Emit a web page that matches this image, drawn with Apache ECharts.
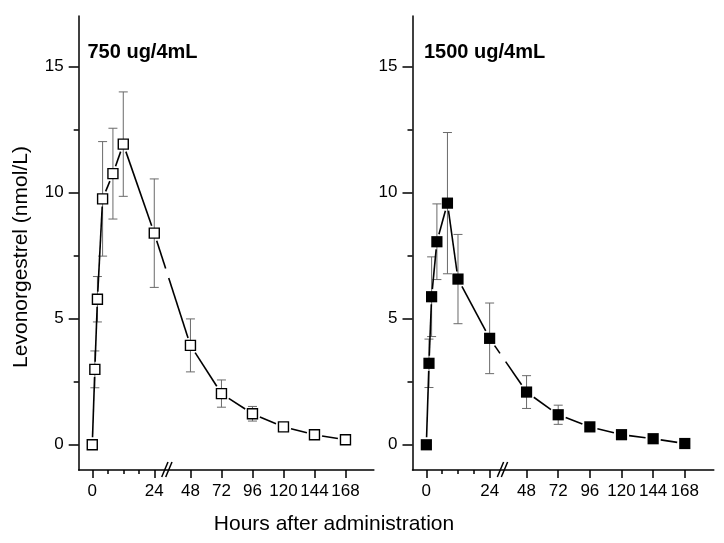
<!DOCTYPE html>
<html><head><meta charset="utf-8">
<script src="https://cdn.jsdelivr.net/npm/echarts@6/dist/echarts.min.js"></script>
<style>html,body{margin:0;padding:0;background:#fff}#c{width:724px;height:543px}</style>
</head><body><div id="c"></div>
<script>
// ---- data ----
const hours      = [0, 1, 2, 4, 8, 12, 24, 48, 72, 96, 120, 144, 168];
const mean750    = [0, 2.99, 5.77, 9.75, 10.75, 11.92, 8.39, 3.94, 2.03, 1.23, 0.71, 0.40, 0.20];
const sd750      = [0, 0.73, 0.90, 2.27, 1.80, 2.07, 2.15, 1.05, 0.54, 0.29, 0.10, 0.12, 0.12];
const mean1500   = [0, 3.23, 5.87, 8.05, 9.58, 6.57, 4.22, 2.09, 1.19, 0.71, 0.40, 0.24, 0.05];
const sd1500     = [0, 0.96, 1.58, 1.50, 2.80, 1.77, 1.40, 0.65, 0.38, 0.10, 0.08, 0.05, 0.05];
const panelTitles = ['750 ug/4mL', '1500 ug/4mL'];
const tickHours      = [0, 24, 48, 72, 96, 120, 144, 168];
const minorTickHours = [6, 12, 18];
const yTicks      = [0, 5, 10, 15];
const yMinorTicks = [2.5, 7.5, 12.5];
const yTitle = 'Levonorgestrel (nmol/L)';
const xTitle = 'Hours after administration';

// broken time axis: 0–24 h at full scale, 48–168 h at half scale
const BREAK_AT = 29;
function pos(h) { return h <= 24 ? h : 38 + (h - 48) / 2; }

const FONT = '"Liberation Sans", Arial, sans-serif';
const panels = [
  { mean: mean750,  sd: sd750,  open: true,  left: 78.7,  width: 295.2 },
  { mean: mean1500, sd: sd1500, open: false, left: 412.5, width: 301.3 }
];
const X_MIN = -5.25, X_MAX = 109, Y_MIN = -1, Y_MAX = 17;
const HALF = 5.6;   // half marker size in px (for line gaps)

const grid = [], xAxis = [], yAxis = [], series = [];
const tickPos = tickHours.map(pos);

panels.forEach((p, g) => {
  grid.push({ left: p.left, top: 16, width: p.width, height: 454 });
  const axLine = { show: true, onZero: false, lineStyle: { color: '#000', width: 1.5 } };
  xAxis.push({
    gridIndex: g, type: 'value', min: X_MIN, max: X_MAX, position: 'bottom',
    axisLine: axLine,
    axisTick: { show: true, customValues: tickPos, length: 8, lineStyle: { color: '#000', width: 1.5 } },
    axisLabel: { customValues: tickPos, fontSize: 17, color: '#000', fontFamily: FONT, margin: 13,
      formatter: v => { const i = tickPos.findIndex(t => Math.abs(t - v) < 1e-6); return i >= 0 ? String(tickHours[i]) : ''; } },
    splitLine: { show: false }
  });
  xAxis.push({
    gridIndex: g, type: 'value', min: X_MIN, max: X_MAX, position: 'bottom',
    axisLine: { show: false, onZero: false },
    axisTick: { show: true, customValues: minorTickHours.map(pos), length: 4, lineStyle: { color: '#000', width: 1.5 } },
    axisLabel: { show: false }, splitLine: { show: false }
  });
  yAxis.push({
    gridIndex: g, type: 'value', min: Y_MIN, max: Y_MAX, position: 'left',
    axisLine: axLine,
    axisTick: { show: true, customValues: yTicks, length: 10, lineStyle: { color: '#000', width: 1.5 } },
    axisLabel: { customValues: yTicks, fontSize: 17, color: '#000', fontFamily: FONT, margin: 15 },
    splitLine: { show: false }
  });
  yAxis.push({
    gridIndex: g, type: 'value', min: Y_MIN, max: Y_MAX, position: 'left',
    axisLine: { show: false, onZero: false },
    axisTick: { show: true, customValues: yMinorTicks, length: 5, lineStyle: { color: '#000', width: 1.5 } },
    axisLabel: { show: false }, splitLine: { show: false }
  });
  const xi = g * 2, yi = g * 2;

  // error bars
  series.push({
    type: 'custom', xAxisIndex: xi, yAxisIndex: yi, z: 2, silent: true,
    data: hours.map((h, i) => [pos(h), p.mean[i], p.sd[i]]),
    renderItem: (params, api) => {
      const x = api.value(0), m = api.value(1), e = api.value(2);
      if (!(e > 0)) return;
      const top = api.coord([x, m + e]), bot = api.coord([x, m - e]);
      const st = { stroke: '#6a6a6a', lineWidth: 1 };
      return { type: 'group', children: [
        { type: 'line', shape: { x1: top[0], y1: top[1], x2: bot[0], y2: bot[1] }, style: st },
        { type: 'line', shape: { x1: top[0] - 4.5, y1: top[1], x2: top[0] + 4.5, y2: top[1] }, style: st },
        { type: 'line', shape: { x1: bot[0] - 4.5, y1: bot[1], x2: bot[0] + 4.5, y2: bot[1] }, style: st }
      ] };
    }
  });

  // connecting line (gaps around markers and at axis break)
  const segs = [];
  for (let i = 0; i < hours.length - 1; i++) segs.push([pos(hours[i]), p.mean[i], pos(hours[i + 1]), p.mean[i + 1]]);
  series.push({
    type: 'custom', xAxisIndex: xi, yAxisIndex: yi, z: 3, silent: true,
    data: segs,
    renderItem: (params, api) => {
      const a = api.coord([api.value(0), api.value(1)]);
      const b = api.coord([api.value(2), api.value(3)]);
      const dx = b[0] - a[0], dy = b[1] - a[1], L = Math.hypot(dx, dy);
      const ux = dx / L, uy = dy / L;
      const ex = HALF / Math.max(Math.abs(ux), Math.abs(uy)) + 2;
      if (L <= 2 * ex) return;
      const pieces = [];
      const bx = api.coord([BREAK_AT, 0])[0];
      if (a[0] < bx && b[0] > bx) {
        const t = (bx - a[0]) / dx * L;
        pieces.push([ex, t - 5], [t + 5, L - ex]);
      } else pieces.push([ex, L - ex]);
      return { type: 'group', children: pieces.filter(q => q[1] > q[0]).map(q => ({
        type: 'line',
        shape: { x1: a[0] + ux * q[0], y1: a[1] + uy * q[0], x2: a[0] + ux * q[1], y2: a[1] + uy * q[1] },
        style: { stroke: '#000', lineWidth: 1.6 }
      })) };
    }
  });

  // markers
  series.push({
    type: 'scatter', xAxisIndex: xi, yAxisIndex: yi, z: 4, silent: true,
    symbol: 'rect', symbolSize: p.open ? 10 : 11.2,
    itemStyle: p.open ? { color: '#fff', borderColor: '#000', borderWidth: 1.4, opacity: 1 }
                      : { color: '#000', borderColor: '#000', borderWidth: 0, opacity: 1 },
    data: hours.map((h, i) => [pos(h), p.mean[i]])
  });

  // axis break mark "//"
  series.push({
    type: 'custom', xAxisIndex: xi, yAxisIndex: yi, z: 6, silent: true, clip: false,
    data: [[BREAK_AT, Y_MIN]],
    renderItem: (params, api) => {
      const c = api.coord([api.value(0), api.value(1)]);
      const st = { stroke: '#000', lineWidth: 1.5 };
      return { type: 'group', children: [
        { type: 'line', shape: { x1: c[0] - 5.5, y1: c[1] + 7, x2: c[0] + 0.8, y2: c[1] - 8 }, style: st },
        { type: 'line', shape: { x1: c[0] - 1.5, y1: c[1] + 7, x2: c[0] + 4.8, y2: c[1] - 8 }, style: st }
      ] };
    }
  });
});

const chart = echarts.init(document.getElementById('c'), null, { renderer: 'canvas' });
chart.setOption({
  backgroundColor: '#fff',
  animation: false,
  grid, xAxis, yAxis, series,
  graphic: [
    { type: 'text', x: 87.5, y: 52, style: { text: panelTitles[0], font: 'bold 20px ' + FONT, fill: '#000', verticalAlign: 'middle' } },
    { type: 'text', x: 424, y: 52, style: { text: panelTitles[1], font: 'bold 20px ' + FONT, fill: '#000', verticalAlign: 'middle' } },
    { type: 'text', x: 21, y: 257, rotation: Math.PI / 2, style: { text: yTitle, font: '21px ' + FONT, fill: '#000', align: 'center', verticalAlign: 'middle' } },
    { type: 'text', x: 334, y: 524, style: { text: xTitle, font: '21px ' + FONT, fill: '#000', align: 'center', verticalAlign: 'middle' } }
  ]
});
</script>
</body></html>
